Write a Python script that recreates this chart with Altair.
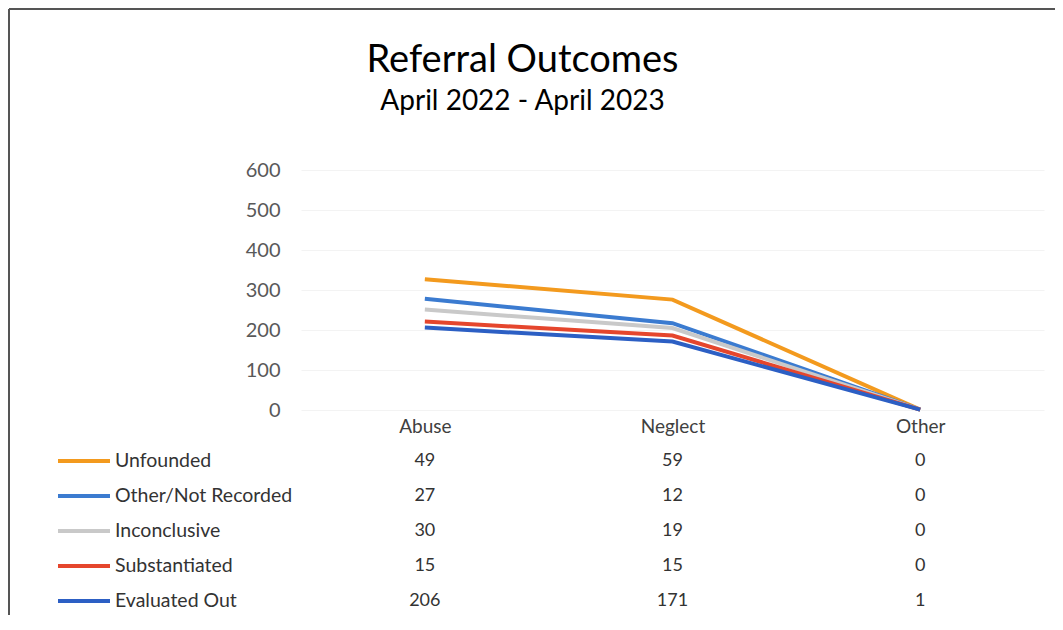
import altair as alt
import pandas as pd

categories = ["Abuse", "Neglect", "Other"]
series = ["Unfounded", "Other/Not Recorded", "Inconclusive", "Substantiated", "Evaluated Out"]
unfounded = [49, 59, 0]
other_not_recorded = [27, 12, 0]
inconclusive = [30, 19, 0]
substantiated = [15, 15, 0]
evaluated_out = [206, 171, 1]
colors = ["#F39A1E", "#3B7BD0", "#C9C9C9", "#E5462D", "#2C5FC4"]
y_ticks = [0, 100, 200, 300, 400, 500, 600]

values = [unfounded, other_not_recorded, inconclusive, substantiated, evaluated_out]
rows = []
for i, (s, vals) in enumerate(zip(series, values)):
    for c, v in zip(categories, vals):
        rows.append({"series": s, "category": c, "value": v, "stack_rank": len(series) - i})
df = pd.DataFrame(rows)

FONT = "Lato"
base = alt.Chart(df)

x_enc = alt.X("category:N", sort=categories,
              scale=alt.Scale(type="point", padding=0.5),
              axis=alt.Axis(title=None, labelAngle=0, domain=False, ticks=False,
                            labelPadding=7, labelFontSize=19, labelColor="#404040",
                            labelFont=FONT, orient="bottom"))
color_enc = alt.Color("series:N", sort=series,
                      scale=alt.Scale(domain=series, range=colors), legend=None)
table_y = alt.Y("series:N", sort=series,
                scale=alt.Scale(type="point", domain=series, range=[291, 431], padding=0),
                axis=None)

lines = base.transform_window(
    cum="sum(value)", groupby=["category"],
    sort=[alt.SortField("stack_rank")], frame=[None, 0]
).mark_line(strokeWidth=4).encode(
    x=x_enc,
    y=alt.Y("cum:Q", scale=alt.Scale(domain=[0, 600]),
            axis=alt.Axis(title=None, values=y_ticks, domain=False, ticks=False,
                          labelPadding=21, labelFontSize=20, labelColor="#595959",
                          labelFont=FONT, grid=True, gridColor="#f3f3f3")),
    color=color_enc,
)

value_text = base.mark_text(fontSize=18, font=FONT, color="#333333",
                            baseline="middle", align="center").encode(
    x=alt.X("category:N", sort=categories),
    y=table_y,
    text="value:Q",
)

keys = base.transform_filter(alt.datum.category == "Abuse").mark_point(
    shape="stroke", size=2704, strokeWidth=4, filled=False, opacity=1
).encode(x=alt.value(-217), y=table_y, color=color_enc)

key_labels = base.transform_filter(alt.datum.category == "Abuse").mark_text(
    fontSize=19.5, font=FONT, color="#333333", align="left", baseline="middle"
).encode(x=alt.value(-186), y=table_y, text="series:N")

# chart frame (Excel chart border, left and top edges visible)
frame_left = base.mark_rule(color="#555555", strokeWidth=2).encode(
    x=alt.value(-292), y=alt.value(-161), y2=alt.value(470))
frame_top = base.mark_rule(color="#555555", strokeWidth=2).encode(
    x=alt.value(-292), x2=alt.value(770), y=alt.value(-161))

chart = alt.layer(lines, value_text, keys, key_labels, frame_left, frame_top).resolve_scale(
    y="independent"
).properties(
    width=743, height=240,
    padding={"left": 293, "top": 162, "right": 11, "bottom": 205},
    autosize=alt.AutoSizeParams(type="none"),
    title=alt.TitleParams(
        text="Referral Outcomes", subtitle="April 2022 - April 2023",
        font=FONT, subtitleFont=FONT, fontSize=38, subtitleFontSize=28,
        fontWeight="normal", color="#000000", subtitleColor="#000000",
        anchor="middle", dx=-150, offset=-108, subtitlePadding=8,
    ),
).configure_view(stroke=None)

chart.save("out.html", embed_options={"renderer": "svg", "actions": False})
